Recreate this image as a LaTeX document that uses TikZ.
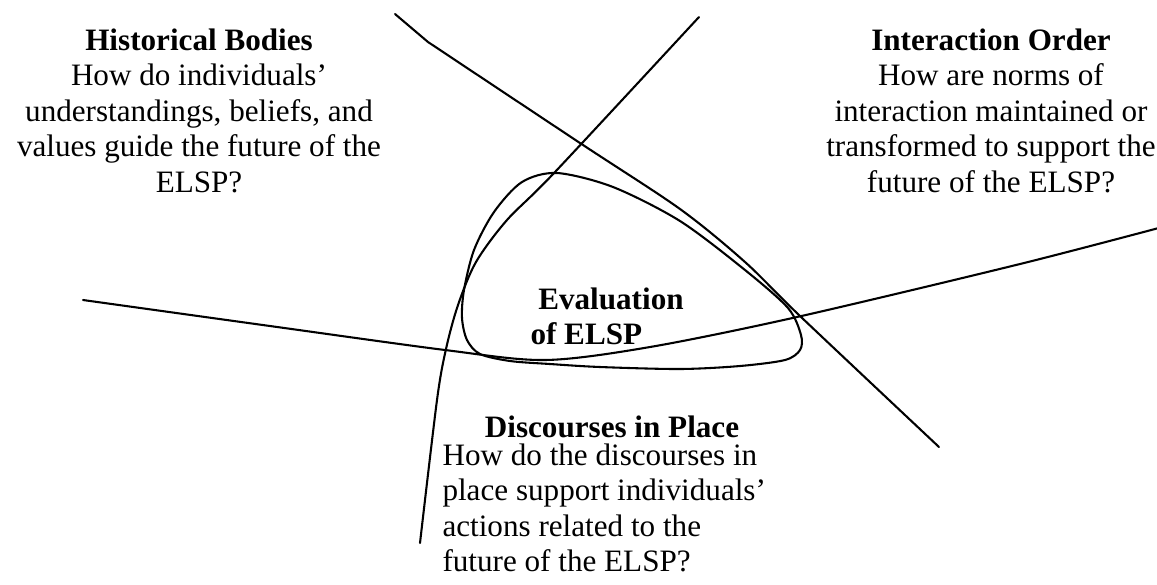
\documentclass[tikz,border=0pt]{standalone}
\usepackage{fontspec}
\setmainfont{Liberation Serif}
\usepackage{tikz}
\usetikzlibrary{positioning}
\tikzset{
  qtext/.style ={align=center, inner sep=0pt, anchor=north,
                 font=\fontsize{12}{13.7}\selectfont},
  ltext/.style ={qtext, align=left, anchor=north west},
  strand/.style={line width=0.8pt, line join=round, line cap=round},
}

\begin{document}
\begin{tikzpicture}[x=0.3854pt,y=-0.3854pt]
  \clip (0,0) rectangle (1157,584);
  \node[qtext] (hist) at (199,28)
    {\textbf{Historical Bodies}\\How do individuals'\\understandings, beliefs, and\\values guide the future of the\\ELSP?};
  \node[qtext] (inter) at (991,28)
    {\textbf{Interaction Order}\\How are norms of\\interaction maintained or\\transformed to support the\\future of the ELSP?};
  \node[ltext] (eval) at (530,287)
    {\textbf{\hspace*{0.25em}Evaluation}\\\textbf{of ELSP}};
  \node[qtext] (dpTitle) at (612,415) {\textbf{Discourses in Place}};
  \node[ltext] (dpText) at (442,443)
    {How do the discourses in\\place support individuals'\\actions related to the\\future of the ELSP?};
  \draw[strand] (395,14) -- plot[smooth] coordinates
    {(428,42) (580,143) (680,209) (745,262) (800,316) (939,447)};
  \draw[strand] plot[smooth] coordinates
    {(420,543) (437,400) (446,349) (458,305) (476,262) (507,220) (555,172) (699,17)};
  \draw[strand] plot[smooth] coordinates
    {(83,300) (270,326) (445,350) (545,360) (650,347) (797,317) (1020,264) (1170,225)};
  \draw[strand] plot[smooth cycle, tension=0.5] coordinates
    {(557,173) (613,187) (680,221) (745,270) (788,308) (801,335) (800,350) (785,360)
     (740,366) (680,369) (600,367) (550,364) (510,361) (480,354) (467,340) (462,318)
     (464,290) (474,250) (494,212) (522,182)};
\end{tikzpicture}
\end{document}
